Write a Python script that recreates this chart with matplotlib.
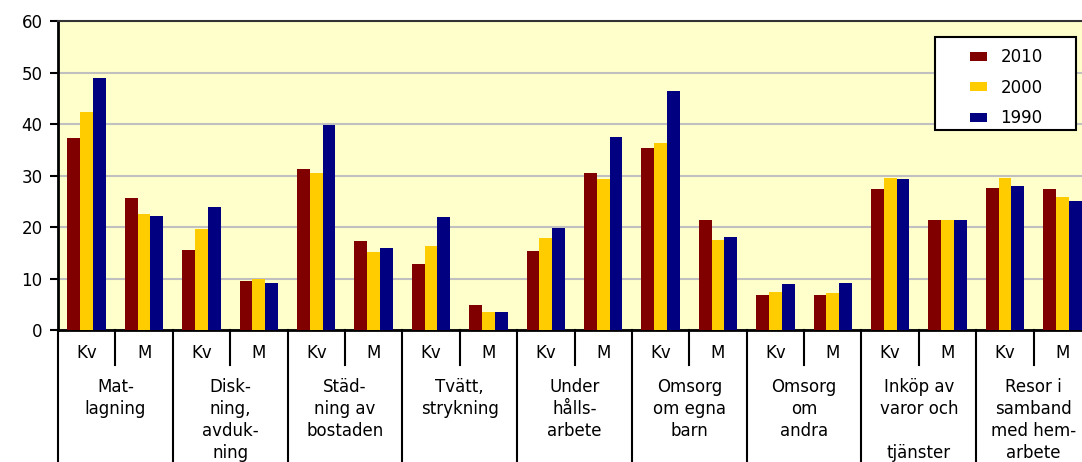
import matplotlib
matplotlib.use("Agg")
import matplotlib.pyplot as plt
import matplotlib.transforms as mtransforms
from matplotlib.patches import Rectangle
import numpy as np

# data (hours per week, approx.)
groups = ["Mat-\nlagning", "Disk-\nning,\navduk-\nning", "Städ-\nning av\nbostaden",
          "Tvätt,\nstrykning", "Under\nhålls-\narbete", "Omsorg\nom egna\nbarn",
          "Omsorg\nom\nandra", "Inköp av\nvaror och\n\ntjänster", "Resor i\nsamband\nmed hem-\narbete"]
sexes = ["Kv", "M"]
years = ["2010", "2000", "1990"]
colors = ["#800000", "#FFCC00", "#000080"]

v2010 = [37.3, 25.6, 15.5, 9.5, 31.3, 17.2, 12.9, 4.9, 15.4, 30.4, 35.3, 21.3, 6.8, 6.8, 27.3, 21.3, 27.6, 27.3]
v2000 = [42.4, 22.5, 19.6, 10.0, 30.4, 15.2, 16.3, 3.5, 17.8, 29.3, 36.4, 17.5, 7.3, 7.1, 29.6, 21.3, 29.6, 25.9]
v1990 = [48.9, 22.2, 23.9, 9.2, 39.8, 16.0, 21.9, 3.5, 19.9, 37.5, 46.4, 18.0, 8.9, 9.1, 29.3, 21.3, 27.9, 25.0]

plt.rcParams["font.family"] = ["DejaVu Sans"]

W, H = 1082, 462
fig = plt.figure(figsize=(W / 100, H / 100), dpi=100)
ax = fig.add_axes([58 / W, 132 / H, 1033 / W, 309 / H])
ax.set_facecolor("#FFFFCC")

x = np.arange(len(v2010)) + 0.5
bw = 0.223
for i, (vals, c, lab) in enumerate(zip([v2010, v2000, v1990], colors, years)):
    ax.bar(x + (i - 1) * bw, vals, width=bw, color=c, label=lab, zorder=3)

ax.set_xlim(0, len(v2010))
ax.set_ylim(0, 60)
ax.set_yticks(range(0, 61, 10))
ax.yaxis.grid(True, color="#C0C0C0", lw=1.5, zorder=0)
ax.tick_params(axis="y", length=6, width=1.5, pad=5, labelsize=12, colors="black")
ax.set_xticks([])
for s in ["left", "bottom"]:
    ax.spines[s].set_linewidth(2)
ax.spines["top"].set_linewidth(1.5)
ax.spines["top"].set_color("#333333")
ax.spines["right"].set_visible(False)

# multi-level category axis
trans = mtransforms.blended_transform_factory(ax.transData, ax.transAxes)
for k in range(len(groups) + 1):
    ax.plot([2 * k, 2 * k], [0, -0.6], transform=trans, color="black", lw=1.5, clip_on=False)
for k in range(len(groups)):
    ax.plot([2 * k + 1, 2 * k + 1], [0, -0.113], transform=trans, color="black", lw=1.5, clip_on=False)
    for j, s in enumerate(sexes):
        ax.text(2 * k + j + 0.5, -0.075, s, transform=trans, ha="center", va="center", fontsize=12)
    ax.text(2 * k + 1, -0.155, groups[k], transform=trans, ha="center", va="top",
            fontsize=12, linespacing=1.3)

# legend box
fig.patches.append(Rectangle((935 / W, 1 - 130 / H), 141 / W, 93 / H, transform=fig.transFigure,
                             facecolor="white", edgecolor="black", lw=1.5, zorder=3))
fig.legend(loc="upper left", bbox_to_anchor=(962 / W, 1 - 40 / H), frameon=False, borderpad=0,
           fontsize=12, handlelength=1.0, handleheight=0.45, handletextpad=0.8,
           labelspacing=0.75).set_zorder(5)

fig.savefig("out.png", dpi=100)
